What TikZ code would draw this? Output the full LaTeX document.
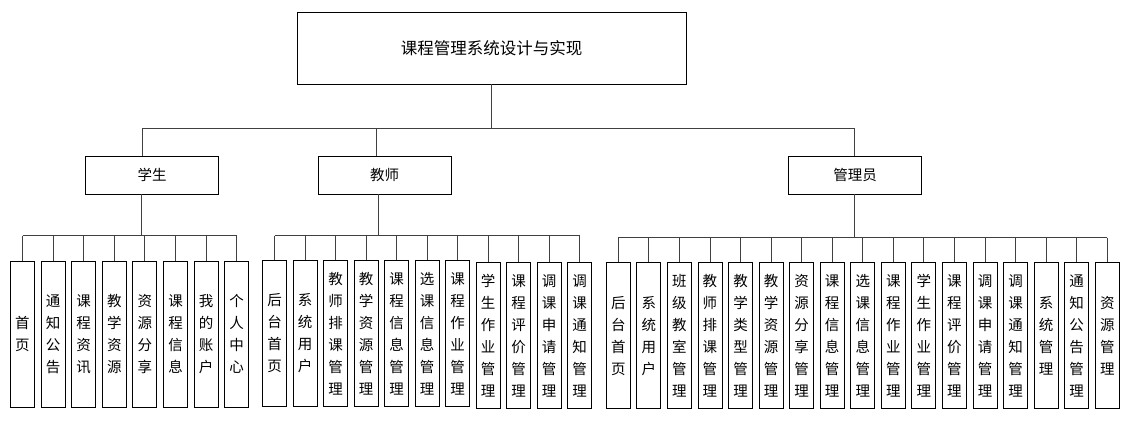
\documentclass[tikz,border=0pt]{standalone}
\usepackage{fontspec}
\setmainfont{Noto Sans CJK SC}
\begin{document}
\begin{tikzpicture}[x=1pt,y=-1pt,
  box/.style={draw=black,line width=0.9pt,inner sep=0pt,fill=white},
  rootbox/.style={box,minimum width=389pt,minimum height=72pt,font=\fontsize{16.5}{20}\selectfont},
  midbox/.style={box,minimum width=133pt,minimum height=38pt,font=\fontsize{14.5}{18}\selectfont},
  leaf/.style={box,minimum width=24pt,minimum height=146pt,align=center,font=\fontsize{14.5}{22}\selectfont},
  link/.style={draw=black!75,line width=0.9pt}]
\useasboundingbox (0,0) rectangle (1138,426);
% root
\node[rootbox] (root) at (491.5,48) {课程管理系统设计与实现};
\node[midbox] (stu) at (152,175) {学生};
\node[midbox] (tea) at (384.5,175) {教师};
\node[midbox] (adm) at (855,175) {管理员};
% level-1 connectors
\coordinate (b1) at (491.5,128.3);
\coordinate (s1) at (142.3,128.3);
\coordinate (t1) at (376,128.3);
\coordinate (a1) at (854.7,128.3);
\draw[link] (root.south) -- (b1);
\draw[link] (s1) -- (a1);
\draw[link] (s1) -- (s1 |- stu.north);
\draw[link] (t1) -- (t1 |- tea.north);
\draw[link] (a1) -- (a1 |- adm.north);
% student leaves
\foreach \t [count=\i] in {首\\页,通\\知\\公\\告,课\\程\\资\\讯,教\\学\\资\\源,资\\源\\分\\享,课\\程\\信\\息,我\\的\\账\\户,个\\人\\中\\心}{
  \node[leaf] (sl\i) at ({22.5+(\i-1)*30.6},334) {\t};
}
\coordinate (sb) at (141.3,235.7);
\draw[link] (sb |- stu.south) -- (sb);
\draw[link] (sl1.north |- sb) -- (sl8.north |- sb);
\foreach \i in {1,...,8}{\draw[link] (sl\i.north |- sb) -- (sl\i.north);}
% teacher leaves
\foreach \t [count=\i] in {后\\台\\首\\页,系\\统\\用\\户,教\\师\\排\\课\\管\\理,教\\学\\资\\源\\管\\理,课\\程\\信\\息\\管\\理,选\\课\\信\\息\\管\\理,课\\程\\作\\业\\管\\理}{
  \node[leaf] (tl\i) at ({274.5+(\i-1)*30.5},333.5) {\t};
}
\foreach \t [count=\j] in {学\\生\\作\\业\\管\\理,课\\程\\评\\价\\管\\理,调\\课\\申\\请\\管\\理,调\\课\\通\\知\\管\\理}{
  \pgfmathtruncatemacro{\k}{\j+7}
  \node[leaf] (tl\k) at ({274.5+(\k-1)*30.5},335.7) {\t};
}
\coordinate (tb) at (378,235.5);
\draw[link] (tb |- tea.south) -- (tb);
\draw[link] (tl1.north |- tb) -- (tl11.north |- tb);
\foreach \i in {1,...,11}{\draw[link] (tl\i.north |- tb) -- (tl\i.north);}
% admin leaves
\foreach \t [count=\i] in {后\\台\\首\\页,系\\统\\用\\户,班\\级\\教\\室\\管\\理,教\\师\\排\\课\\管\\理,教\\学\\类\\型\\管\\理,教\\学\\资\\源\\管\\理,资\\源\\分\\享\\管\\理,课\\程\\信\\息\\管\\理,选\\课\\信\\息\\管\\理,课\\程\\作\\业\\管\\理,学\\生\\作\\业\\管\\理,课\\程\\评\\价\\管\\理,调\\课\\申\\请\\管\\理,调\\课\\通\\知\\管\\理,系\\统\\管\\理,通\\知\\公\\告\\管\\理,资\\源\\管\\理}{
  \node[leaf] (al\i) at ({618.3+(\i-1)*30.56},335.7) {\t};
}
\coordinate (ab) at (854.7,237.5);
\draw[link] (ab |- adm.south) -- (ab);
\draw[link] (al1.north |- ab) -- (al17.north |- ab);
\foreach \i in {1,...,17}{\draw[link] (al\i.north |- ab) -- (al\i.north);}
\end{tikzpicture}
\end{document}
